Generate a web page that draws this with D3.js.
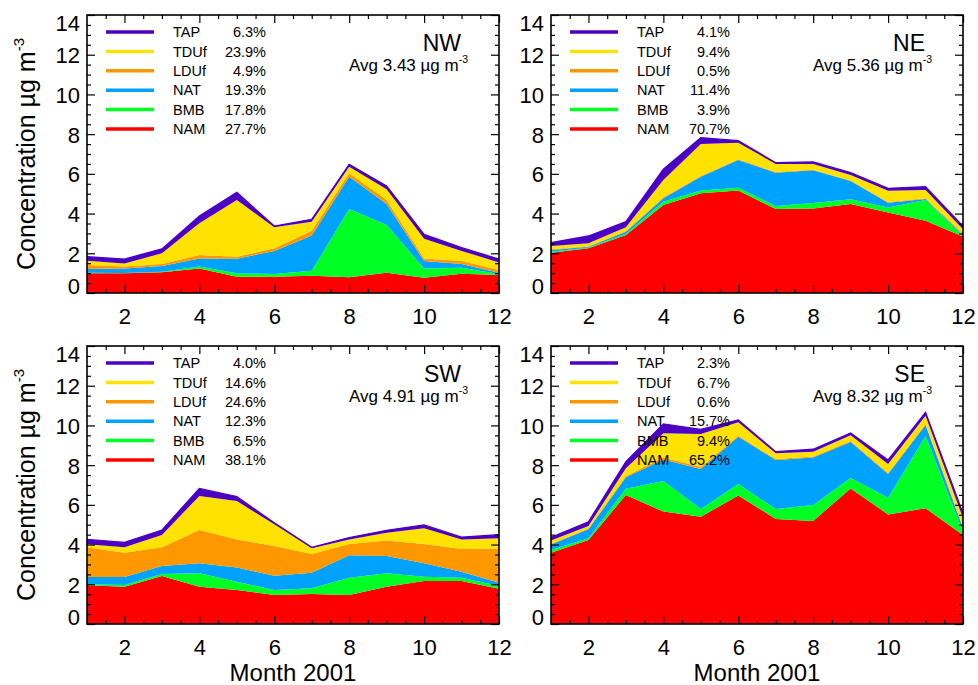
<!DOCTYPE html>
<html>
<head>
<meta charset="utf-8">
<script src="https://cdn.jsdelivr.net/npm/d3@7"></script>
<style>
  html, body { margin: 0; padding: 0; background: #fff; }
  svg { display: block; font-family: "Liberation Sans", Arial, Helvetica, sans-serif; }
</style>
</head>
<body>
<svg id="chart" width="978" height="685"></svg>
<script>
// ---------- DATA ----------
const months = [1,2,3,4,5,6,7,8,9,10,11,12];
const seriesKeys = ["NAM","BMB","NAT","LDUf","TDUf","TAP"];      // stacking order (bottom -> top)
const legendKeys = ["TAP","TDUf","LDUf","NAT","BMB","NAM"];      // legend order (top -> bottom)
const xTickValues = [2,4,6,8,10,12];
const yTickValues = [0,2,4,6,8,10,12,14];
const xLabel = "Month 2001";

// NW
const nwNAM  = [0.99,0.99,1.04,1.24,0.82,0.82,0.87,0.79,1.02,0.77,0.97,0.91];
const nwBMB  = [0.03,0.02,0.03,0.09,0.17,0.14,0.25,3.44,2.40,0.47,0.30,0.05];
const nwNAT  = [0.19,0.22,0.29,0.41,0.74,1.16,1.77,1.63,1.06,0.37,0.19,0.06];
const nwLDUf = [0.20,0.10,0.10,0.17,0.10,0.13,0.25,0.17,0.20,0.13,0.15,0.14];
const nwTDUf = [0.22,0.16,0.54,1.60,2.85,1.06,0.45,0.33,0.54,0.99,0.51,0.38];
const nwTAP  = [0.20,0.22,0.22,0.37,0.39,0.06,0.12,0.12,0.17,0.22,0.16,0.17];
const nwPct  = ["6.3%","23.9%","4.9%","19.3%","17.8%","27.7%"];

// NE
const neNAM  = [2.03,2.25,2.92,4.43,5.02,5.16,4.23,4.26,4.48,4.05,3.64,2.84];
const neBMB  = [0.05,0.04,0.07,0.17,0.14,0.14,0.15,0.27,0.24,0.26,1.04,0.03];
const neNAT  = [0.09,0.04,0.10,0.17,0.70,1.40,1.68,1.65,0.92,0.24,0.05,0.05];
const neLDUf = [0.03,0.03,0.03,0.05,0.03,0.03,0.03,0.03,0.03,0.03,0.04,0.08];
const neTDUf = [0.17,0.14,0.19,0.87,1.61,0.84,0.41,0.29,0.27,0.57,0.42,0.21];
const neTAP  = [0.16,0.37,0.28,0.54,0.32,0.10,0.06,0.10,0.12,0.12,0.16,0.16];
const nePct  = ["4.1%","9.4%","0.5%","11.4%","3.9%","70.7%"];

// SW
const swNAM  = [1.95,1.88,2.42,1.88,1.71,1.46,1.51,1.46,1.88,2.17,2.17,1.78];
const swBMB  = [0.05,0.08,0.10,0.67,0.42,0.25,0.29,0.87,0.67,0.21,0.16,0.13];
const swNAT  = [0.37,0.41,0.40,0.51,0.72,0.72,0.78,1.13,0.87,0.68,0.30,0.17];
const swLDUf = [1.49,1.22,0.94,1.67,1.41,1.50,0.95,0.57,0.78,0.97,1.15,1.71];
const swTDUf = [0.15,0.27,0.62,1.72,1.93,1.09,0.28,0.23,0.40,0.79,0.48,0.53];
const swTAP  = [0.25,0.25,0.25,0.38,0.22,0.08,0.05,0.09,0.12,0.17,0.11,0.18];
const swPct  = ["4.0%","14.6%","24.6%","12.3%","6.5%","38.1%"];

// SE
const seNAM  = [3.59,4.23,6.50,5.66,5.40,6.47,5.29,5.19,6.83,5.52,5.83,4.48];
const seBMB  = [0.14,0.09,0.31,1.54,0.39,0.58,0.50,0.80,0.52,0.84,3.64,0.17];
const seNAT  = [0.27,0.45,0.58,1.09,2.02,2.38,2.47,2.40,1.82,1.19,0.55,0.17];
const seLDUf = [0.04,0.04,0.06,0.10,0.10,0.05,0.05,0.05,0.05,0.05,0.05,0.08];
const seTDUf = [0.16,0.13,0.39,1.21,1.66,0.68,0.29,0.24,0.28,0.46,0.42,0.42];
const seTAP  = [0.16,0.21,0.34,0.47,0.23,0.11,0.08,0.12,0.12,0.20,0.17,0.25];
const sePct  = ["2.3%","6.7%","0.6%","15.7%","9.4%","65.2%"];

const regionNames = ["NW","NE","SW","SE"];
const regionAvgs  = ["3.43","5.36","4.91","8.32"];

// ---------- STYLE / LAYOUT ----------
const colors = { TAP:"#4b00c4", TDUf:"#ffe200", LDUf:"#ff9800", NAT:"#00a2ff", BMB:"#00ff24", NAM:"#ff0000" };
const W = 412, H = 278;
const panels = [
  { name: regionNames[0], avg: regionAvgs[0], pct: nwPct, x0: 87,  y0: 15,  yTitle: true,  xTitle: false,
    cols: [nwNAM, nwBMB, nwNAT, nwLDUf, nwTDUf, nwTAP] },
  { name: regionNames[1], avg: regionAvgs[1], pct: nePct, x0: 551, y0: 15,  yTitle: false, xTitle: false,
    cols: [neNAM, neBMB, neNAT, neLDUf, neTDUf, neTAP] },
  { name: regionNames[2], avg: regionAvgs[2], pct: swPct, x0: 87,  y0: 346, yTitle: true,  xTitle: true,
    cols: [swNAM, swBMB, swNAT, swLDUf, swTDUf, swTAP] },
  { name: regionNames[3], avg: regionAvgs[3], pct: sePct, x0: 551, y0: 346, yTitle: false, xTitle: true,
    cols: [seNAM, seBMB, seNAT, seLDUf, seTDUf, seTAP] }
];

const svg = d3.select("#chart");
const x = d3.scaleLinear().domain([1, 12]).range([0, W]);
const y = d3.scaleLinear().domain([0, 14]).range([H, 0]);

const xMinor = d3.range(1.5, 12.01, 0.5).filter(v => xTickValues.indexOf(v) < 0);
const yMinor = d3.range(0.5, 14, 0.5).filter(v => yTickValues.indexOf(v) < 0);

panels.forEach(p => {
  const g = svg.append("g").attr("transform", `translate(${p.x0},${p.y0})`);

  const rows = months.map((m, i) => {
    const r = { month: m };
    seriesKeys.forEach((k, j) => { r[k] = p.cols[j][i]; });
    return r;
  });
  const stacked = d3.stack().keys(seriesKeys)(rows);

  const area = d3.area()
    .x(d => x(d.data.month))
    .y0(d => y(d[0]))
    .y1(d => y(d[1]));

  g.append("g").selectAll("path").data(stacked).join("path")
    .attr("d", area)
    .attr("fill", d => colors[d.key]);

  // thin top outline of the TAP layer
  const top = stacked[stacked.length - 1];
  g.append("path")
    .attr("d", d3.line().x(d => x(d.data.month)).y(d => y(d[1]))(top))
    .attr("fill", "none").attr("stroke", colors.TAP).attr("stroke-width", 1.3);

  // axes (ticks inward on all sides)
  const styleAxis = sel => {
    sel.select(".domain").remove();
    sel.selectAll(".tick line").attr("stroke", "#000").attr("stroke-width", 1.2);
    sel.selectAll("text").attr("font-size", 22).attr("fill", "#000")
      .attr("font-family", '"Liberation Sans", Arial, Helvetica, sans-serif');
  };

  // left
  const gl = g.append("g").call(d3.axisLeft(y).tickValues(yTickValues).tickSize(-8).tickPadding(7).tickFormat(d3.format("d")));
  styleAxis(gl);
  gl.selectAll(".tick text").attr("dy", d => d === 0 ? "0em" : (d === 14 ? "0.72em" : "0.36em"));
  styleAxis(g.append("g").call(d3.axisLeft(y).tickValues(yMinor).tickSize(-4).tickFormat("")));
  // right
  styleAxis(g.append("g").attr("transform", `translate(${W},0)`).call(d3.axisRight(y).tickValues(yTickValues).tickSize(-8).tickFormat("")));
  styleAxis(g.append("g").attr("transform", `translate(${W},0)`).call(d3.axisRight(y).tickValues(yMinor).tickSize(-4).tickFormat("")));
  // bottom
  const gb = g.append("g").attr("transform", `translate(0,${H})`)
    .call(d3.axisBottom(x).tickValues(xTickValues).tickSize(-8).tickPadding(15).tickFormat(d3.format("d")));
  styleAxis(gb);
  styleAxis(g.append("g").attr("transform", `translate(0,${H})`).call(d3.axisBottom(x).tickValues(xMinor).tickSize(-4).tickFormat("")));
  // top
  styleAxis(g.append("g").call(d3.axisTop(x).tickValues(xTickValues).tickSize(-8).tickFormat("")));
  styleAxis(g.append("g").call(d3.axisTop(x).tickValues(xMinor).tickSize(-4).tickFormat("")));

  // frame
  g.append("rect").attr("x", 0).attr("y", 0).attr("width", W).attr("height", H)
    .attr("fill", "none").attr("stroke", "#000").attr("stroke-width", 1.6);

  // legend
  const lg = g.append("g");
  legendKeys.forEach((k, i) => {
    const yy = 17 + i * 19.4;
    lg.append("line").attr("x1", 19).attr("x2", 67).attr("y1", yy).attr("y2", yy)
      .attr("stroke", colors[k]).attr("stroke-width", 3.5);
    lg.append("text").attr("x", 86).attr("y", yy + 5.2).attr("font-size", 14.5).attr("fill", "#000").text(k);
    lg.append("text").attr("x", 179).attr("y", yy + 5.2).attr("font-size", 14.5).attr("fill", "#000")
      .attr("text-anchor", "end").text(p.pct[i]);
  });

  // region label & average
  g.append("text").attr("x", W - 38).attr("y", 36).attr("text-anchor", "end")
    .attr("font-size", 23).attr("fill", "#000").text(p.name);
  const avgT = g.append("text").attr("x", W - 31).attr("y", 56).attr("text-anchor", "end")
    .attr("font-size", 17).attr("fill", "#000");
  avgT.append("tspan").text(`Avg ${p.avg} \u00b5g m`);
  avgT.append("tspan").attr("font-size", 10.5).attr("dy", -8).text("-3");

  // y title
  if (p.yTitle) {
    const t = g.append("text")
      .attr("transform", `translate(${35 - p.x0},${H / 2}) rotate(-90)`)
      .attr("text-anchor", "middle").attr("font-size", 25).attr("fill", "#000");
    t.append("tspan").text("Concentration \u00b5g m");
    t.append("tspan").attr("font-size", 15).attr("dy", -11).text("-3");
  }
  // x title
  if (p.xTitle) {
    g.append("text").attr("x", W / 2).attr("y", H + 57).attr("text-anchor", "middle")
      .attr("font-size", 24).attr("fill", "#000").text(xLabel);
  }
});
</script>
</body>
</html>
